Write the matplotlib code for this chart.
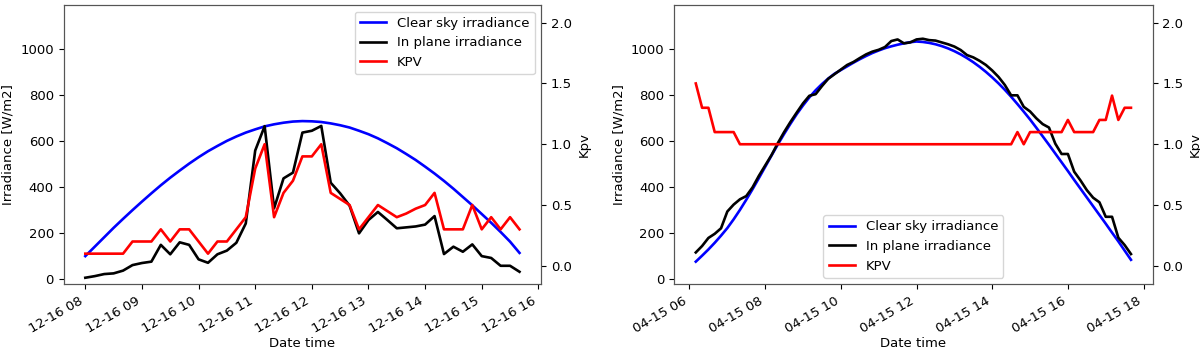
import numpy as np
import pandas as pd
import matplotlib
matplotlib.use("Agg")
import matplotlib.pyplot as plt
import matplotlib.dates as mdates

# ---- day 1 : 2018-12-16, 10 min steps from 08:00 to 15:40
time_dec = pd.date_range("2018-12-16 08:00", "2018-12-16 15:40", freq="10min")
clear_dec = [101, 142, 183, 224, 263, 301, 338, 374, 409, 442, 473, 503,
             531, 557, 580, 602, 621, 638, 652, 665, 674, 681, 686, 688,
             687, 684, 678, 670, 660, 646, 631, 613, 592, 570, 545, 519,
             490, 460, 428, 394, 358, 322, 284, 246, 206, 164, 115]
plane_dec = [7, 14, 23, 26, 38, 62, 71, 77, 150, 109, 161, 150,
             87, 72, 109, 125, 159, 243, 560, 666, 309, 439, 464, 638,
             646, 667, 420, 374, 320, 200, 258, 293, 258, 222, 226, 230,
             238, 275, 110, 142, 120, 152, 101, 93, 59, 59, 33]
kpv_dec = [0.1, 0.1, 0.1, 0.1, 0.1, 0.2, 0.2, 0.2, 0.3, 0.2, 0.3, 0.3,
           0.2, 0.1, 0.2, 0.2, 0.3, 0.4, 0.8, 1.0, 0.4, 0.6, 0.7, 0.9,
           0.9, 1.0, 0.6, 0.55, 0.5, 0.3, 0.4, 0.5, 0.45, 0.4, 0.43, 0.47,
           0.5, 0.6, 0.3, 0.3, 0.3, 0.5, 0.3, 0.4, 0.3, 0.4, 0.3]

# ---- day 2 : 2018-04-15, 10 min steps from 06:10 to 17:40
time_apr = pd.date_range("2018-04-15 06:10", "2018-04-15 17:40", freq="10min")
clear_apr = [77, 103, 130, 159, 190,
             223, 261, 302, 346, 392, 440,
             489, 538, 586, 632, 676, 718,
             756, 791, 822, 849, 873, 894,
             910, 926, 942, 957, 971, 984,
             995, 1005, 1013, 1020, 1026, 1031,
             1034, 1032, 1028, 1022, 1014, 1004,
             992, 978, 962, 944, 924, 902,
             878, 852, 824, 794, 762, 729,
             695, 659, 622, 585, 547, 509,
             471, 432, 394, 356, 318, 280,
             242, 203, 165, 125, 85]
plane_apr = [117, 145, 180, 198, 222,
             295, 325, 348, 362, 400, 450,
             495, 540, 592, 640, 684, 725,
             765, 798, 805, 840, 872, 892,
             912, 932, 945, 962, 978, 990,
             998, 1010, 1036, 1043, 1026, 1030,
             1043, 1046, 1040, 1038, 1030, 1022,
             1012, 997, 975, 965, 950, 932,
             908, 880, 845, 800, 800, 750,
             730, 700, 675, 660, 590, 545,
             545, 468, 430, 388, 355, 335,
             272, 272, 181, 149, 110]
kpv_apr = ([1.5, 1.3, 1.3] + [1.1] * 4 + [1.0] * 44 + [1.1, 1.0] + [1.1] * 6
           + [1.2] + [1.1] * 4 + [1.2, 1.2, 1.4, 1.2, 1.3, 1.3])

plt.rcParams["font.size"] = 9.5

fig = plt.figure(figsize=(12, 3.52), dpi=100)
ax_l = fig.add_axes([0.053, 0.192, 0.398, 0.794])
ax_r = fig.add_axes([0.5617, 0.192, 0.3989, 0.794])


def draw(ax, t, clear, plane, kpv, step, loc):
    l1, = ax.plot(t, clear, color="blue", lw=1.9, label="Clear sky irradiance")
    l2, = ax.plot(t, plane, color="black", lw=1.9, label="In plane irradiance")
    ax.set_ylim(-22, 1193)
    ax.set_yticks([0, 200, 400, 600, 800, 1000])
    ax.set_ylabel("Irradiance [W/m2]")
    ax.set_xlabel("Date time", labelpad=1)
    ax.xaxis.set_major_locator(mdates.HourLocator(interval=step))
    ax.xaxis.set_major_formatter(mdates.DateFormatter("%m-%d %H"))
    for lab in ax.get_xticklabels():
        lab.set_rotation(30)
        lab.set_ha("right")
    ax2 = ax.twinx()
    l3, = ax2.plot(t, kpv, color="red", lw=1.9, label="KPV")
    ax2.set_ylim(-0.153, 2.146)
    ax2.set_yticks([0.0, 0.5, 1.0, 1.5, 2.0])
    ax2.set_ylabel("Kpv")
    for a in (ax, ax2):
        for s in a.spines.values():
            s.set_color("#555555")
    ax2.legend(handles=[l1, l2, l3], loc=loc, fontsize=9.5)


draw(ax_l, time_dec, clear_dec, plane_dec, kpv_dec, 1, "upper right")
draw(ax_r, time_apr, clear_apr, plane_apr, kpv_apr, 2, "lower center")

fig.savefig("out.png", dpi=100)
